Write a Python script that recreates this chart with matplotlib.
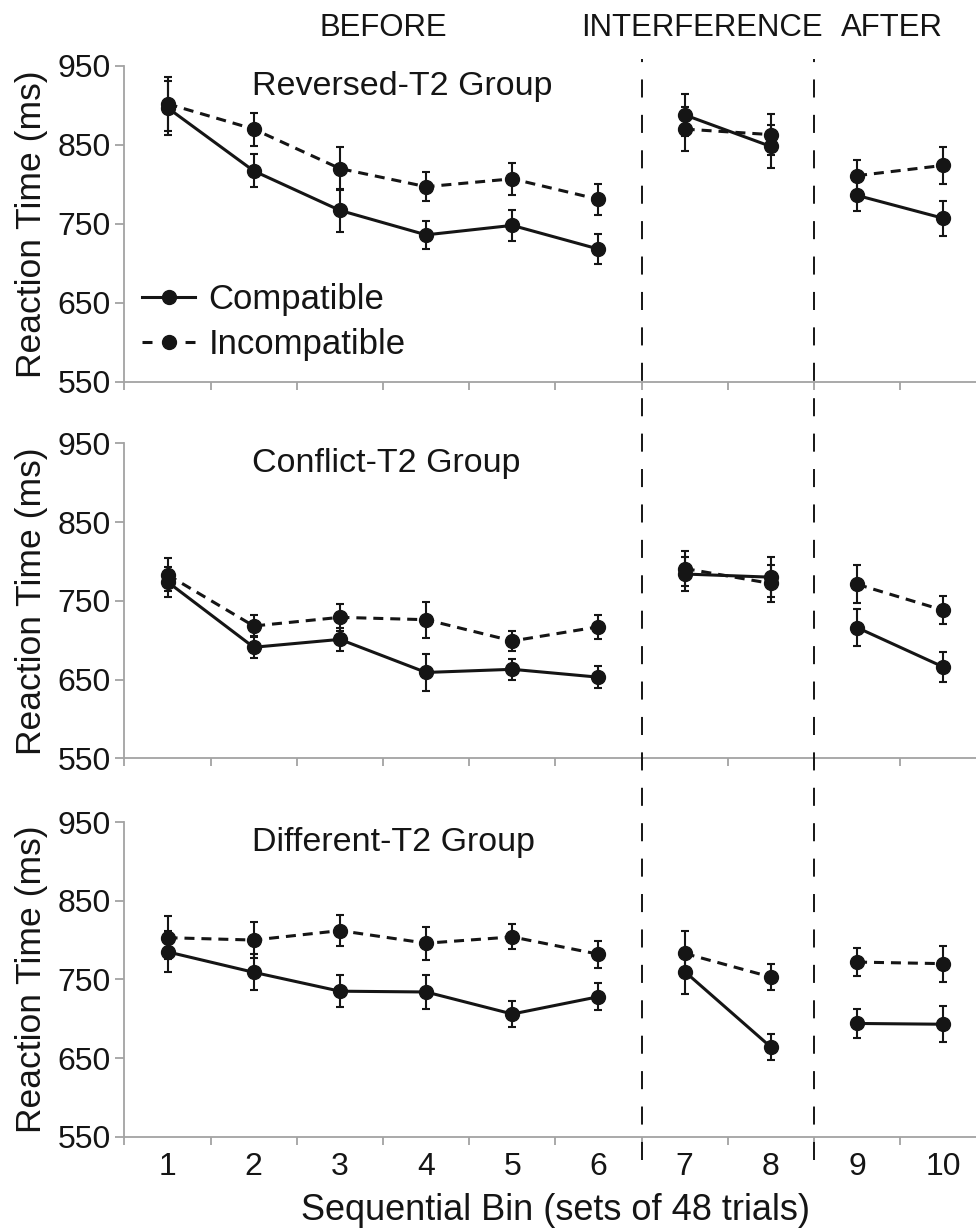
import numpy as np
import matplotlib.pyplot as plt
from matplotlib.lines import Line2D
from matplotlib.transforms import blended_transform_factory

plt.rcParams['font.family'] = ['Liberation Sans', 'DejaVu Sans']
plt.rcParams['lines.scale_dashes'] = False

# data
bins = np.arange(1, 11)
segments = [(0, 6), (6, 8), (8, 10)]          # before / interference / after
phases = ['BEFORE', 'INTERFERENCE', 'AFTER']
groups = ['Reversed-T2 Group', 'Conflict-T2 Group', 'Different-T2 Group']

comp_rt = [
    [897, 817, 767, 736, 748, 718, 888, 848, 786, 757],
    [774, 691, 701, 659, 663, 653, 784, 780, 716, 666],
    [785, 759, 735, 734, 706, 728, 760, 664, 694, 693],
]
comp_err = [
    [34, 21, 27, 18, 20, 19, 27, 27, 20, 22],
    [19, 14, 15, 23, 13, 14, 21, 25, 24, 19],
    [26, 23, 20, 21, 16, 17, 28, 17, 18, 23],
]
incomp_rt = [
    [902, 870, 820, 797, 807, 781, 870, 863, 811, 824],
    [783, 718, 729, 726, 699, 717, 791, 772, 771, 738],
    [803, 800, 812, 796, 804, 782, 783, 753, 772, 770],
]
incomp_err = [
    [34, 21, 27, 18, 20, 20, 28, 26, 20, 23],
    [21, 14, 17, 23, 13, 15, 22, 24, 24, 18],
    [27, 23, 20, 21, 16, 17, 28, 16, 18, 23],
]
yticks = [550, 650, 750, 850, 950]

ink = '#151515'
grey = '#a3a3a3'
dash = (0, (7.2, 5.0))

fig = plt.figure(figsize=(9.76, 12.28), dpi=100)
boxes = [(0.6892, 0.2571), (0.3825, 0.2565), (0.0743, 0.2563)]
axes = [fig.add_axes([0.1275, b, 0.8725, h]) for b, h in boxes]

for i, ax in enumerate(axes):
    ax.errorbar(bins, comp_rt[i], yerr=comp_err[i], fmt='none', ecolor=ink,
                elinewidth=1.5, capsize=3, capthick=1.5, zorder=2)
    ax.errorbar(bins, incomp_rt[i], yerr=incomp_err[i], fmt='none', ecolor=ink,
                elinewidth=1.5, capsize=3, capthick=1.5, zorder=2)
    for s, e in segments:
        ax.plot(bins[s:e], comp_rt[i][s:e], color=ink, lw=2.2, marker='o', ms=10, zorder=3)
        ax.plot(bins[s:e], incomp_rt[i][s:e], color=ink, lw=2.2, linestyle=dash,
                marker='o', ms=10, zorder=3)

    ax.set_xlim(0.5, 10.38)
    ax.set_ylim(550, 950)
    ax.set_yticks(yticks)
    ax.set_xticks(bins)
    ax.set_xticks(np.arange(0.5, 10, 1), minor=True)
    ax.spines[['top', 'right']].set_visible(False)
    for sp in ['left', 'bottom']:
        ax.spines[sp].set_color(grey)
        ax.spines[sp].set_linewidth(1.3)
    ax.tick_params(axis='x', which='major', length=0, pad=11, labelsize=23, labelcolor=ink)
    ax.tick_params(axis='x', which='minor', length=6, width=1.3, color=grey)
    ax.tick_params(axis='y', length=6.5, width=1.3, color=grey, pad=3.5,
                   labelsize=23, labelcolor=ink)
    if i < 2:
        ax.tick_params(axis='x', labelbottom=False)

    ax.set_ylabel('Reaction Time (ms)', fontsize=25.5, color=ink)
    ax.yaxis.set_label_coords(-0.090, 0.5)
    ax.text(0.150, 0.909, groups[i], transform=ax.transAxes, ha='left',
            va='baseline', fontsize=24.5, color=ink)

# legend in the top panel
h1 = Line2D([], [], color=ink, lw=2.2, marker='o', ms=10)
h2 = Line2D([], [], color=ink, lw=2.2, marker='o', ms=10, linestyle=(0, (7.2, 23.8)))
axes[0].legend([h1, h2], ['Compatible', 'Incompatible'], loc='lower left',
               bbox_to_anchor=(0.021, 0.065), frameon=False, fontsize=25,
               handlelength=1.53, handletextpad=0.37, labelspacing=0.35,
               borderpad=0, borderaxespad=0, numpoints=1, labelcolor=ink)

axes[2].set_xlabel(' ')
fig.text(0.569, 0.0065, 'Sequential Bin (sets of 48 trials)', ha='center',
         va='baseline', fontsize=26, color=ink)

# phase separators through all panels
trans = blended_transform_factory(axes[2].transData, fig.transFigure)
for xv in [6.5, 8.5]:
    fig.add_artist(Line2D([xv, xv], [0.0554, 0.952], transform=trans, color=ink,
                          lw=1.4, linestyle=(0, (13, 12.5))))

# phase labels across the top
for name, xp in zip(phases, [383, 701.5, 892]):
    fig.text(xp / 976, 0.9707, name, ha='center', va='baseline', fontsize=22.4, color=ink)

fig.savefig('out.png', dpi=100)
